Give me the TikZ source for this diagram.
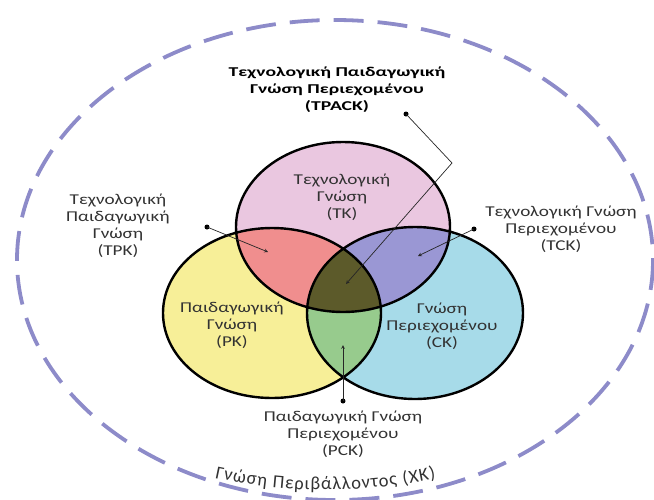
\documentclass[tikz,border=0pt]{standalone}
\usepackage{fontspec}
\setmainfont{Carlito}
\usepackage{xcolor}
\usetikzlibrary{arrows.meta,decorations.text}
\definecolor{tkpink}{RGB}{234,199,224}
\definecolor{pkyellow}{RGB}{247,239,152}
\definecolor{ckblue}{RGB}{167,219,233}
\definecolor{tpkred}{RGB}{240,142,142}
\definecolor{tckpurple}{RGB}{154,151,212}
\definecolor{pckgreen}{RGB}{151,203,141}
\definecolor{tpackolive}{RGB}{92,90,42}
\definecolor{xkdash}{RGB}{141,139,201}
\definecolor{textgray}{RGB}{50,50,50}
\tikzset{>=stealth}
\tikzset{
  venn line/.style={draw=black, line width=2.4pt},
  label text/.style={align=center, text=textgray, inner sep=0pt,
    font=\fontsize{15}{17}\selectfont, xscale=1.28},
  small dot/.style={circle, fill=black, inner sep=0pt, minimum size=5pt},
  pointer/.style={->, line width=0.7pt, draw=black!85}
}

\begin{document}
\begin{tikzpicture}[x=1pt,y=-1pt]
    \useasboundingbox (0,0) rectangle (654,499);
    \clip (0,0) rectangle (654,499);
    \def\ellTK{(343,227) ellipse [x radius=107, y radius=85]}
    \def\ellPK{(272,313) ellipse [x radius=109, y radius=85]}
    \def\ellCK{(415,313) ellipse [x radius=108, y radius=86]}
    \draw[xkdash, line width=3.8pt, dash pattern=on 30pt off 14pt]
        (335,260) ellipse [x radius=318, y radius=240];
    \fill[tkpink] \ellTK;
    \fill[pkyellow] \ellPK;
    \fill[ckblue] \ellCK;
    \begin{scope}
        \clip \ellTK;
        \fill[tpkred] \ellPK;
        \fill[tckpurple] \ellCK;
    \end{scope}
    \begin{scope}
        \clip \ellPK;
        \fill[pckgreen] \ellCK;
    \end{scope}
    \begin{scope}
        \clip \ellTK;
        \clip \ellPK;
        \fill[tpackolive] \ellCK;
    \end{scope}
    \draw[venn line] \ellTK \ellPK \ellCK;

    \node[label text] (tk) at (342,197) {Τεχνολογική\\Γνώση\\(TK)};
    \node[label text] (pk) at (232,325) {Παιδαγωγική\\Γνώση\\(PK)};
    \node[label text] (ck) at (442,326) {Γνώση\\Περιεχομένου\\(CK)};
    \node[label text] (tpk) at (118,226) {Τεχνολογική\\Παιδαγωγική\\Γνώση\\(TPK)};
    \node[label text] (tck) at (561,229) {Τεχνολογική Γνώση\\Περιεχομένου\\(TCK)};
    \node[label text] (pck) at (343,434) {Παιδαγωγική Γνώση\\Περιεχομένου\\(PCK)};
    \node[label text, text=black, xscale=1.14, font=\fontsize{13.5}{17}\selectfont\bfseries] (tpack) at (337,90)
        {Τεχνολογική Παιδαγωγική\\Γνώση Περιεχομένου\\(TPACK)};

    \node[small dot] (tpackdot) at (406,114) {};
    \coordinate (tpackbend) at (452,163);
    \coordinate (tpackend) at (346,284);
    \draw[pointer] (tpackdot.center) -- (tpackbend) -- (tpackend);
    \node[small dot] (tpkdot) at (207,227) {};
    \coordinate (tpkend) at (268,252);
    \draw[pointer] (tpkdot.center) -- (tpkend);
    \node[small dot] (tckdot) at (474,229) {};
    \coordinate (tckend) at (418,256);
    \draw[pointer] (tckdot.center) -- (tckend);
    \node[small dot] (pckdot) at (343,401) {};
    \coordinate (pckend) at (343,345);
    \draw[pointer] (pckdot.center) -- (pckend);

    \path[decorate, decoration={text along path, text align=center,
        text={|\fontsize{18.5}{22}\selectfont\color{textgray}\kern0.9pt|Γνώση Περιβάλλοντος (XK)}}]
        (325,-30) ++(103.5:520) arc [start angle=103.5, end angle=76.5, radius=520];
\end{tikzpicture}
\end{document}
